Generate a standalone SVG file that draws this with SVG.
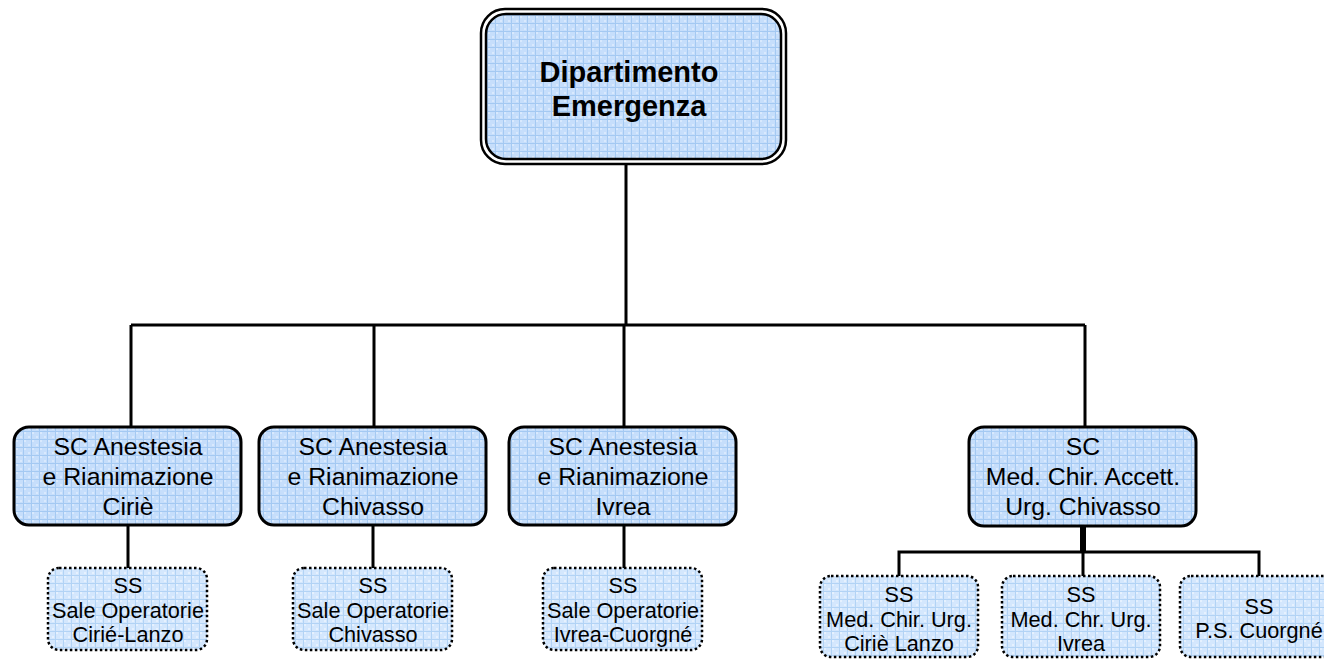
<svg xmlns="http://www.w3.org/2000/svg" width="1324" height="659" viewBox="0 0 1324 659">
<defs>
<pattern id="grid" width="8" height="8" patternUnits="userSpaceOnUse">
<rect width="8" height="8" fill="#c6defb"/>
<rect x="0" y="0" width="2" height="2" fill="#d9e9fd"/>
<rect x="4" y="4" width="2" height="2" fill="#d9e9fd"/>
<path d="M0 7.5H8M7.5 0V8" stroke="#a4c9f2" stroke-width="1"/>
</pattern>
<pattern id="grid2" width="8" height="8" patternUnits="userSpaceOnUse">
<rect width="8" height="8" fill="#d4e7fd"/>
<rect x="0" y="0" width="2" height="2" fill="#e6f1fe"/>
<rect x="4" y="4" width="2" height="2" fill="#e6f1fe"/>
<path d="M0 7.5H8M7.5 0V8" stroke="#b2d3f5" stroke-width="1"/>
</pattern>
</defs>
<style>
.sc{fill:url(#grid);stroke:#000;stroke-width:3}
.ss{fill:url(#grid2);stroke:#000;stroke-width:2.5;stroke-dasharray:2.5 2.5}
.t{font-family:"Liberation Sans",Arial,sans-serif;text-anchor:middle;fill:#000}
.top{font-size:29px;font-weight:bold}
.f1{font-size:24.8px}
.f2{font-size:21.7px}
.c{stroke:#000;stroke-width:3;fill:none}
</style>
<rect width="1324" height="659" fill="#fff"/>
<g id="connectors">
<path class="c" d="M626 163V325M131 325H1085M131 325V427M374 325V427M624 325V427M1085 325V427"/>
<path class="c" d="M128 524V568M373 524V568M624 524V568"/>
<path class="c" d="M1083 526V552" style="stroke-width:6"/>
<path class="c" d="M899 576V552H1259V576M1083 552V576"/>
</g>
<g id="dept">
<rect x="481" y="9" width="305" height="155" rx="24" fill="none" stroke="#000" stroke-width="2.5"/>
<rect x="486" y="14" width="295" height="145" rx="20" fill="url(#grid)" stroke="#000" stroke-width="2.5"/>
<text class="t top" x="629" y="82">Dipartimento</text>
<text class="t top" x="629" y="116">Emergenza</text>
</g>
<g id="sc1">
<rect class="sc" x="14" y="427" width="227" height="98" rx="15"/>
<text class="t f1" x="128" y="455">SC Anestesia</text>
<text class="t f1" x="128" y="485">e Rianimazione</text>
<text class="t f1" x="128" y="515">Ciriè</text>
</g>
<g id="sc2">
<rect class="sc" x="259" y="427" width="227" height="98" rx="15"/>
<text class="t f1" x="373" y="455">SC Anestesia</text>
<text class="t f1" x="373" y="485">e Rianimazione</text>
<text class="t f1" x="373" y="515">Chivasso</text>
</g>
<g id="sc3">
<rect class="sc" x="509" y="427" width="227" height="98" rx="15"/>
<text class="t f1" x="623" y="455">SC Anestesia</text>
<text class="t f1" x="623" y="485">e Rianimazione</text>
<text class="t f1" x="623" y="515">Ivrea</text>
</g>
<g id="sc4">
<rect class="sc" x="969" y="427" width="227" height="99" rx="15"/>
<text class="t f1" x="1083" y="455">SC</text>
<text class="t f1" x="1083" y="485">Med. Chir. Accett.</text>
<text class="t f1" x="1083" y="515">Urg. Chivasso</text>
</g>
<g id="ss1">
<rect class="ss" x="48" y="568" width="159" height="82" rx="11"/>
<text class="t f2" x="128" y="593">SS</text>
<text class="t f2" x="128" y="618">Sale Operatorie</text>
<text class="t f2" x="128" y="642">Cirié-Lanzo</text>
</g>
<g id="ss2">
<rect class="ss" x="293" y="568" width="159" height="82" rx="11"/>
<text class="t f2" x="373" y="593">SS</text>
<text class="t f2" x="373" y="618">Sale Operatorie</text>
<text class="t f2" x="373" y="642">Chivasso</text>
</g>
<g id="ss3">
<rect class="ss" x="543" y="568" width="159" height="82" rx="11"/>
<text class="t f2" x="623" y="593">SS</text>
<text class="t f2" x="623" y="618">Sale Operatorie</text>
<text class="t f2" x="623" y="642">Ivrea-Cuorgné</text>
</g>
<g id="ss4">
<rect class="ss" x="820" y="576" width="158" height="81" rx="11"/>
<text class="t f2" x="899" y="602">SS</text>
<text class="t f2" x="899" y="627">Med. Chir. Urg.</text>
<text class="t f2" x="899" y="651">Ciriè Lanzo</text>
</g>
<g id="ss5">
<rect class="ss" x="1002" y="576" width="158" height="81" rx="11"/>
<text class="t f2" x="1081" y="602">SS</text>
<text class="t f2" x="1081" y="627">Med. Chr. Urg.</text>
<text class="t f2" x="1081" y="651">Ivrea</text>
</g>
<g id="ss6">
<rect class="ss" x="1180" y="576" width="158" height="81" rx="11"/>
<text class="t f2" x="1259" y="614">SS</text>
<text class="t f2" x="1259" y="638">P.S. Cuorgné</text>
</g>
</svg>
